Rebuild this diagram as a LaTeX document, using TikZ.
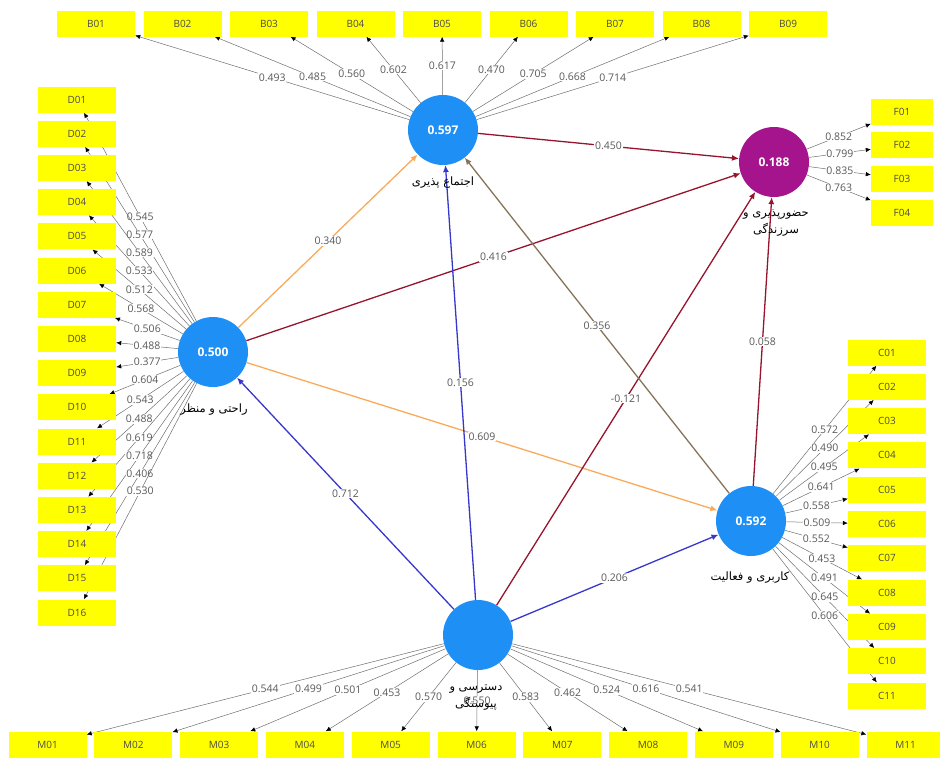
\documentclass[tikz,border=0pt]{standalone}
\usepackage{fontspec}
\setmainfont{Open Sans}
\newfontfamily\farsi[Script=Arabic]{DejaVu Sans}
\TeXXeTstate=1
\usetikzlibrary{arrows.meta,backgrounds}

\definecolor{boxyellow}{RGB}{255,255,0}
\definecolor{lvblue}{RGB}{30,144,245}
\definecolor{lvpurple}{RGB}{165,20,140}
\definecolor{pathblue}{RGB}{55,55,205}
\definecolor{pathorange}{RGB}{250,170,90}
\definecolor{pathred}{RGB}{150,20,45}
\definecolor{pathbrown}{RGB}{135,115,90}
\definecolor{loadgray}{RGB}{110,110,110}

\tikzset{
  item/.style={fill=boxyellow, minimum width=78pt, minimum height=26pt, inner sep=0pt,
    text=black!70, font=\fontsize{10}{12}\selectfont},
  latent/.style={circle, fill=lvblue, minimum size=70pt, inner sep=0pt, text=white,
    font=\bfseries\fontsize{12}{14}\selectfont},
  load/.style={draw=loadgray, line width=0.5pt, -{Latex[length=5pt,width=4.5pt,color=black]}},
  coef/.style={line width=1.3pt, -{Latex[length=7pt,width=6pt]}},
  val/.style={pos=0.5, fill=white, inner sep=0.8pt, text=black!65, font=\fontsize{10.5}{12}\selectfont},
  farsilbl/.style={font=\farsi\fontsize{11.5}{17}\selectfont, align=center, text=black}
}

\begin{document}
\begin{tikzpicture}[x=1pt,y=-1pt]
\useasboundingbox (0,0) rectangle (940,758);

\node[latent] (bsoc) at (443,130) {0.597};
\node[latent] (dcom) at (213,352) {0.500};
\node[latent] (cuse) at (751,521) {0.592};
\node[latent,fill=lvpurple] (fvit) at (774,162) {0.188};
\node[latent] (macc) at (478,635) {};

\foreach \n [count=\i] in {01,02,03,04,05,06,07,08,09}
  \node[item] (b\i) at ({96+86.5*(\i-1)},23.5) {B\n};
\foreach \n [count=\i] in {01,02,03,04,05,06,07,08,09,10,11,12,13,14,15,16}
  \node[item] (d\i) at (77,{99.5+34.2*(\i-1)}) {D\n};
\foreach \n [count=\i] in {01,02,03,04,05,06,07,08,09,10,11}
  \node[item] (c\i) at (887,{352.5+34.3*(\i-1)}) {C\n};
\foreach \n [count=\i] in {01,02,03,04}
  \node[item,minimum width=62pt] (f\i) at (902,{111.5+33.7*(\i-1)}) {F\n};
\foreach \n [count=\i] in {01,02,03,04,05,06,07,08,09,10,11}
  \node[item] (m\i) at ({47.5+85.8*(\i-1)},744.5) {M\n};

\begin{scope}[on background layer]
\foreach \v [count=\i] in {0.493,0.485,0.560,0.602,0.617,0.470,0.705,0.668,0.714}
  \draw[load] (bsoc) -- (b\i) node[val]{\v};
\foreach \v [count=\i] in {0.545,0.577,0.589,0.533,0.512,0.568,0.506,0.488,0.377,0.604,0.543,0.488,0.619,0.718,0.406,0.530}
  \draw[load] (dcom) -- (d\i) node[val]{\v};
\foreach \v [count=\i] in {0.572,0.490,0.495,0.641,0.558,0.509,0.552,0.453,0.491,0.645,0.606}
  \draw[load] (cuse) -- (c\i) node[val]{\v};
\foreach \v [count=\i] in {0.852,0.799,0.835,0.763}
  \draw[load] (fvit) -- (f\i) node[val]{\v};
\foreach \v [count=\i] in {0.544,0.499,0.501,0.453,0.570,0.550,0.583,0.462,0.524,0.616,0.541}
  \draw[load] (macc) -- (m\i) node[val]{\v};

\draw[coef,pathorange] (dcom) -- (bsoc) node[val]{0.340};
\draw[coef,pathorange] (dcom) -- (cuse) node[val]{0.609};
\draw[coef,pathred] (dcom) -- (fvit) node[val]{0.416};
\draw[coef,pathred] (bsoc) -- (fvit) node[val]{0.450};
\draw[coef,pathred] (macc) -- (fvit) node[val]{-0.121};
\draw[coef,pathred] (cuse) -- (fvit) node[val]{0.058};
\draw[coef,pathbrown] (cuse) -- (bsoc) node[val]{0.356};
\draw[coef,pathblue] (macc) -- (dcom) node[val]{0.712};
\draw[coef,pathblue] (macc) -- (bsoc) node[val]{0.156};
\draw[coef,pathblue] (macc) -- (cuse) node[val]{0.206};
\end{scope}

\node[farsilbl] (bsoc-t) at (443,183) {\beginR اجتماع پذیری\endR};
\node[farsilbl] (dcom-t) at (214,410) {\beginR راحتی و منظر\endR};
\node[farsilbl] (cuse-t) at (750,578) {\beginR کاربری و فعالیت\endR};
\node[farsilbl] (fvit-t) at (776,223) {\beginR حضورپذیری و\endR\\\beginR سرزندگی\endR};
\node[farsilbl] (macc-t) at (476,698) {\beginR دسترسی و\endR\\\beginR پیوستگی\endR};
\end{tikzpicture}
\end{document}
